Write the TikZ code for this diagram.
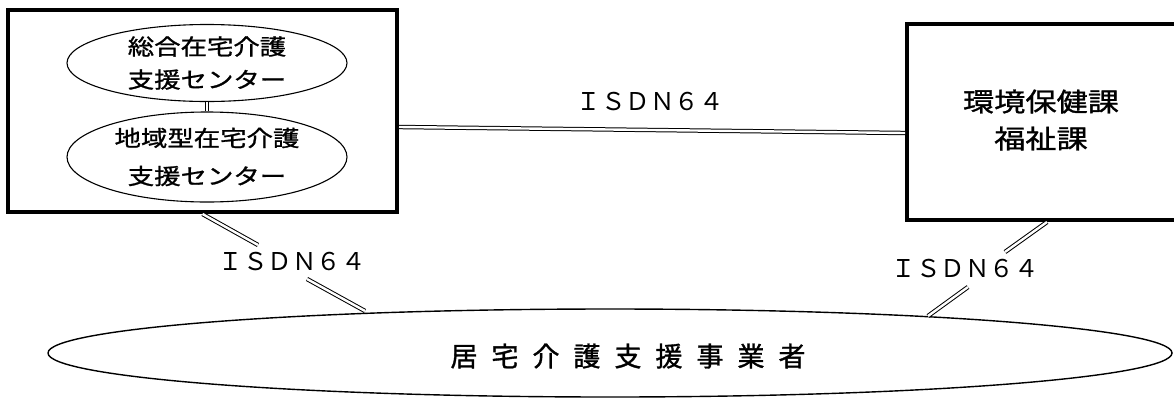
\documentclass[tikz,border=0pt]{standalone}
\usepackage{fontspec}
\newfontfamily\jp{Noto Sans CJK JP}
\newfontfamily\jpb[FakeBold=1.2]{Noto Sans CJK JP}
\newfontfamily\jpw[FakeStretch=1.2,FakeBold=1.2]{Noto Sans CJK JP}
\newfontfamily\jpr[FakeStretch=1.2,FakeBold=1.2]{Noto Sans CJK JP}
\usetikzlibrary{shapes.geometric}
\newcommand\gapchars{\hspace{14pt}}
\begin{document}
\begin{tikzpicture}[x=1pt,y=-1pt,
  thickbox/.style={draw, line width=4pt, inner sep=0pt},
  oval/.style={draw, ellipse, line width=1.1pt, inner sep=0pt, align=center},
  dbl/.style={double, double distance=2.4pt, line width=1pt},
  isdn/.style={inner sep=0pt, font=\jp\fontsize{24.5}{26}\selectfont}]
\useasboundingbox (0,0) rectangle (1174,397);
\clip (0,0) rectangle (1174,397);

% left box with two centres
\node[thickbox, minimum width=389pt, minimum height=202pt] (lbox) at (202.5,111) {};
\node[oval, minimum width=280pt, minimum height=77pt,
      font=\jpw\fontsize{22}{33}\selectfont] (e1) at (207,63) {総合在宅介護\\支援センター};
\node[oval, minimum width=280pt, minimum height=90pt,
      font=\jpw\fontsize{22}{38}\selectfont] (e2) at (207,157) {地域型在宅介護\\支援センター};
\draw[dbl] (e1.south) -- (e2.north);

% right box
\node[thickbox, minimum width=290pt, minimum height=196pt] (rbox) at (1052,122) {};
\node[inner sep=0pt, align=center, font=\jpr\fontsize{26}{37}\selectfont] (rlab) at (1041,120) {環境保健課\\福祉課};

% top link
\draw[dbl] ([yshift=-16pt]lbox.east) -- ([yshift=-11pt]rbox.west);
\node[isdn] (t1) at (650,102) {ＩＳＤＮ６４};

% big ellipse
\node[draw, ellipse, line width=1.4pt, minimum width=1124pt, minimum height=88pt, inner sep=0pt] (big) at (610,353) {};
\node[inner sep=0pt, font=\jpb\fontsize{27}{29}\selectfont] (bigtext) at (628,356)
  {居\gapchars 宅\gapchars 介\gapchars 護\gapchars 支\gapchars 援\gapchars 事\gapchars 業\gapchars 者};

% lower left link
\coordinate (a1) at (258,245);
\coordinate (a2) at (307,279);
\coordinate (a3) at (365,311);
\draw[dbl] (lbox.south) -- (a1);
\draw[dbl] (a2) -- (a3);
\node[isdn] (t2) at (292,262) {ＩＳＤＮ６４};

% lower right link
\coordinate (b0) at (1047,222);
\coordinate (b1) at (1005,252);
\coordinate (b2) at (968,287);
\coordinate (b3) at (928,316);
\draw[dbl] (b0) -- (b1);
\draw[dbl] (b2) -- (b3);
\node[isdn] (t3) at (965,269) {ＩＳＤＮ６４};
\end{tikzpicture}
\end{document}
